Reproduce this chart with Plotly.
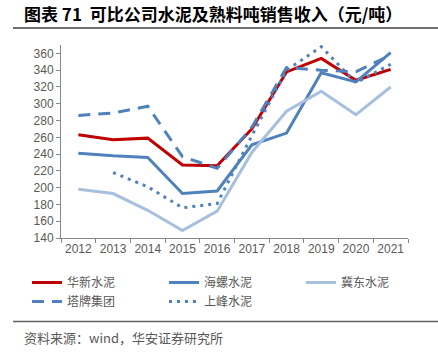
import plotly.graph_objects as go

years = ["2012", "2013", "2014", "2015", "2016", "2017", "2018", "2019", "2020", "2021"]
huaxin = [263, 257, 259, 227, 226, 270, 338, 354, 328, 341]
hailuo = [241, 238, 236, 193, 196, 251, 265, 337, 326, 361]
jidong = [198, 193, 173, 149, 172, 242, 291, 315, 287, 320]
tapai = [286, 289, 297, 237, 223, 272, 343, 340, 338, 358]
shangfeng = [None, 218, 201, 176, 181, 262, 340, 368, 325, 347]

series = [
    ("华新水泥", huaxin, "#C00000", "solid"),
    ("海螺水泥", hailuo, "#4F81BD", "solid"),
    ("冀东水泥", jidong, "#A7C0DE", "solid"),
    ("塔牌集团", tapai, "#4F81BD", "12px,8px"),
    ("上峰水泥", shangfeng, "#4F81BD", "3px,5px"),
]

fig = go.Figure()
for name, vals, color, dash in series:
    fig.add_trace(go.Scatter(
        x=years, y=vals, name=name, mode="lines",
        line=dict(color=color, width=3, dash=dash),
        connectgaps=False,
    ))

L, R, T, B = 61, 30, 45, 116
W, H = 438, 354
pw = W - L - R
ph = H - T - B

def px_x(p):
    return (p - L) / pw

def px_y(p):
    return (H - B - p) / ph

fig.update_layout(
    width=W, height=H,
    margin=dict(l=L, r=R, t=T, b=B),
    paper_bgcolor="white", plot_bgcolor="white",
    font=dict(family="Liberation Sans, Noto Sans CJK SC", size=12, color="#595959"),
    showlegend=True,
    legend=dict(
        orientation="h", x=px_x(47), y=px_y(268), xanchor="left", yanchor="top",
        entrywidth=92, entrywidthmode="pixels",
        font=dict(family="Noto Sans CJK SC", size=12, color="#595959"),
        tracegroupgap=0,
    ),
    xaxis=dict(
        type="category", range=[-0.5, 9.5], tickson="boundaries", tickangle=0,
        ticks="outside", ticklen=4, tickcolor="#888888",
        showline=True, linecolor="#888888", linewidth=1,
        showgrid=False, tickfont=dict(size=12, color="#595959"),
    ),
    yaxis=dict(
        range=[140, 370], tickvals=list(range(140, 361, 20)),
        ticks="outside", ticklen=4, tickcolor="#888888",
        showline=True, linecolor="#888888", linewidth=1,
        showgrid=False, zeroline=False, tickfont=dict(size=12, color="#595959"),
    ),
    shapes=[
        dict(type="line", xref="paper", yref="paper", x0=px_x(13), x1=px_x(438),
             y0=px_y(28), y1=px_y(28), line=dict(color="#404040", width=1.5)),
        dict(type="line", xref="paper", yref="paper", x0=px_x(13), x1=px_x(438),
             y0=px_y(321.5), y1=px_y(321.5), line=dict(color="#606060", width=1.5)),
    ],
    annotations=[
        dict(text="<b>图表 71  可比公司水泥及熟料吨销售收入（元/吨）</b>", xref="paper", yref="paper",
             x=px_x(22), y=px_y(13), xanchor="left", yanchor="middle", showarrow=False,
             font=dict(family="Noto Sans CJK SC", size=17, color="#000000")),
        dict(text="资料来源：wind，华安证券研究所", xref="paper", yref="paper",
             x=px_x(22), y=px_y(337), xanchor="left", yanchor="middle", showarrow=False,
             font=dict(family="Noto Sans CJK SC", size=13, color="#595959")),
    ],
)

fig.write_html("out.html")
